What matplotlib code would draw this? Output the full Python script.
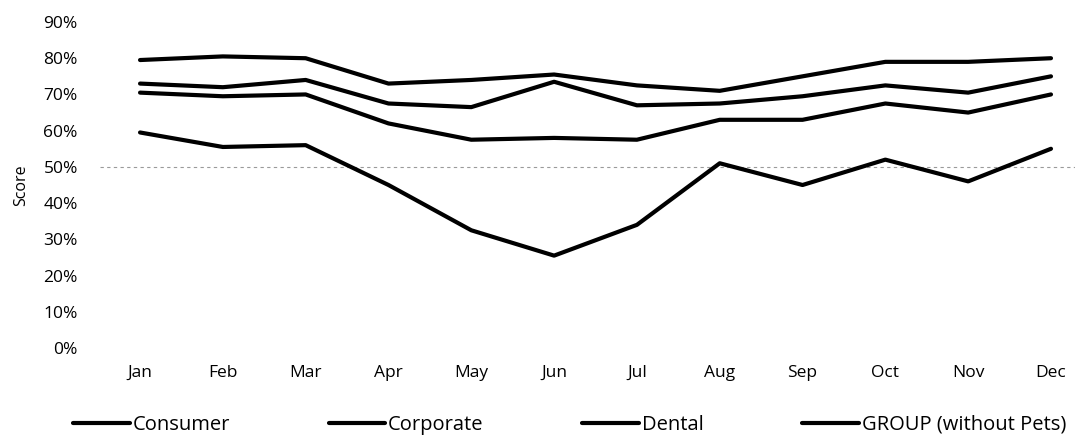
import matplotlib
matplotlib.use("Agg")
import matplotlib.pyplot as plt
from matplotlib.ticker import PercentFormatter

months = ["Jan", "Feb", "Mar", "Apr", "May", "Jun", "Jul", "Aug", "Sep", "Oct", "Nov", "Dec"]
consumer = [59.5, 55.5, 56, 45, 32.5, 25.5, 34, 51, 45, 52, 46, 55]
corporate = [79.5, 80.5, 80, 73, 74, 75.5, 72.5, 71, 75, 79, 79, 80]
dental = [70.5, 69.5, 70, 62, 57.5, 58, 57.5, 63, 63, 67.5, 65, 70]
group = [73, 72, 74, 67.5, 66.5, 73.5, 67, 67.5, 69.5, 72.5, 70.5, 75]
series = [("Consumer", consumer), ("Corporate", corporate), ("Dental", dental), ("GROUP (without Pets)", group)]
yticks = [0, 10, 20, 30, 40, 50, 60, 70, 80, 90]

plt.rcParams['font.family'] = ['Open Sans', 'DejaVu Sans']

fig = plt.figure(figsize=(10.79, 4.38), dpi=100)
ax = fig.add_axes([100/1079, 90/438, 975/1079, 326/438])

x = list(range(len(months)))
handles = []
for name, vals in series:
    h, = ax.plot(x, vals, color="black", lw=3.0, solid_capstyle="round", solid_joinstyle="round", label=name)
    handles.append(h)

ax.axhline(50, color="#9a9a9a", lw=0.8, ls=(0, (3, 3)), zorder=0)

ax.set_ylim(0, 90)
ax.set_yticks(yticks)
ax.yaxis.set_major_formatter(PercentFormatter(decimals=0))
ax.set_xlim(-0.4835, 11.29)
ax.set_xticks(x)
ax.set_xticklabels(months)
ax.tick_params(axis="both", length=0, labelsize=12.5)
ax.tick_params(axis="x", pad=12)
ax.tick_params(axis="y", pad=16)
for s in ax.spines.values():
    s.set_visible(False)
ax.set_ylabel("Score", fontsize=11.5, labelpad=10)

fig.legend(handles=handles, loc="center", bbox_to_anchor=(0.528, 0.03), ncol=4,
           frameon=False, fontsize=14.5, handlelength=2.8, handletextpad=0.15, columnspacing=4.9)

fig.savefig("out.png", dpi=100)
